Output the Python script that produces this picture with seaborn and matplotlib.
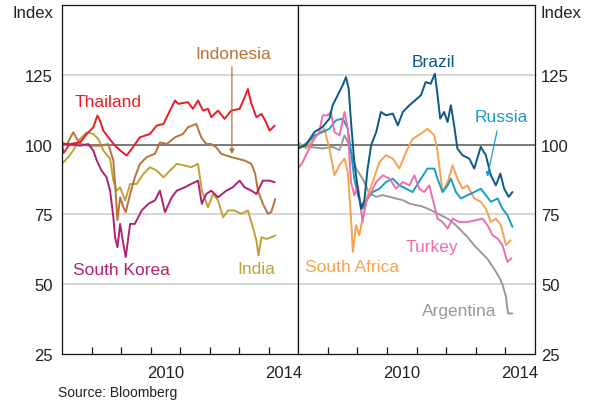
import seaborn as sns
import matplotlib.pyplot as plt
from matplotlib.ticker import FixedLocator, FixedFormatter, NullFormatter

# ---- Asia (panel izquierdo) ----
thailand_t = [2007.0, 2007.05, 2007.27, 2007.61, 2007.84, 2008.06, 2008.2, 2008.29, 2008.4, 2008.57,
              2008.8, 2008.97, 2009.19, 2009.36, 2009.64, 2009.98, 2010.21, 2010.44, 2010.66, 2010.83,
              2010.94, 2011.27, 2011.44, 2011.61, 2011.78, 2011.95, 2012.06, 2012.29, 2012.51, 2012.74,
              2013.02, 2013.19, 2013.3, 2013.42, 2013.59, 2013.76, 2013.89, 2014.04, 2014.21]
thailand = [100, 97, 100.2, 100.8, 103.8, 106.2, 110.4, 108.6, 105, 102.6,
            99.6, 97.9, 96.1, 98.4, 102.6, 103.8, 106.8, 107.4, 112.2, 115.8,
            114.6, 115.2, 112.8, 115.8, 112.2, 112.8, 109.8, 112.2, 109.2, 112.2,
            112.8, 116.9, 119.9, 114.6, 109.8, 111, 108.6, 105, 106.8]

indonesia_t = [2007.0, 2007.16, 2007.38, 2007.61, 2007.95, 2008.29, 2008.57, 2008.74, 2008.8, 2008.88,
               2008.97, 2009.08, 2009.16, 2009.31, 2009.47, 2009.64, 2009.87, 2010.15, 2010.32, 2010.55,
               2010.83, 2011.1, 2011.27, 2011.55, 2011.72, 2011.89, 2012.06, 2012.23, 2012.4, 2012.74,
               2013.19, 2013.42, 2013.55, 2013.64, 2013.81, 2013.98, 2014.09, 2014.23]
indonesia = [100.8, 100, 104.4, 100.2, 99.6, 99.6, 100.2, 94.3, 85.9, 73,
             81.1, 77.6, 75.8, 82.3, 88.3, 93.1, 95.5, 96.7, 100.8, 100.2,
             102.6, 103.8, 106.2, 107.4, 102.6, 100.2, 100.2, 99, 96.7, 95.5,
             94.3, 93.1, 89.5, 83.5, 78.8, 75.2, 75.8, 80.5]

south_korea_t = [2007.0, 2007.27, 2007.61, 2007.89, 2008.06, 2008.18, 2008.34, 2008.51, 2008.63, 2008.74,
                 2008.8, 2008.88, 2008.97, 2009.06, 2009.16, 2009.31, 2009.47, 2009.7, 2009.93, 2010.15,
                 2010.32, 2010.49, 2010.72, 2010.89, 2011.16, 2011.38, 2011.61, 2011.74, 2011.89, 2012.06,
                 2012.29, 2012.57, 2012.79, 2013.02, 2013.19, 2013.42, 2013.59, 2013.81, 2014.04, 2014.21]
south_korea = [100.2, 100.2, 99.6, 100.2, 97.9, 94.3, 90.7, 88.3, 83.5, 74,
               66.8, 63.2, 71.6, 65.6, 59.7, 71.6, 71.6, 76.4, 78.8, 80,
               83.5, 75.8, 81.1, 83.5, 84.7, 85.9, 87.1, 78.8, 82.3, 83.5,
               81.1, 83.5, 84.7, 87.1, 84.7, 83.5, 82.3, 87.1, 87.1, 86.5]

india_t = [2007.0, 2007.21, 2007.38, 2007.61, 2007.84, 2008.06, 2008.23, 2008.4, 2008.63, 2008.74,
           2008.85, 2008.97, 2009.14, 2009.31, 2009.53, 2009.76, 2009.98, 2010.21, 2010.44, 2010.66,
           2010.89, 2011.16, 2011.38, 2011.61, 2011.74, 2011.95, 2012.12, 2012.29, 2012.46, 2012.63,
           2012.85, 2013.08, 2013.3, 2013.47, 2013.59, 2013.66, 2013.76, 2013.93, 2014.09, 2014.23]
india = [93.1, 95.5, 97.9, 102, 104.4, 103.8, 102, 97.9, 94.9, 87.1,
         83.5, 84.7, 80, 85.9, 85.9, 89.5, 91.9, 90.7, 88.3, 90.7,
         93.1, 92.5, 91.9, 93.1, 83.5, 77.6, 82.3, 80, 74, 76.4,
         76.4, 75.2, 76.4, 70.4, 65.6, 60.3, 66.8, 66.2, 66.8, 67.4]

# ---- Otros emergentes (panel derecho) ----
brazil_t = [2007.0, 2007.27, 2007.55, 2007.83, 2008.06, 2008.17, 2008.34, 2008.51, 2008.62, 2008.71,
            2008.79, 2008.9, 2009.02, 2009.13, 2009.24, 2009.35, 2009.47, 2009.64, 2009.8, 2009.97,
            2010.2, 2010.37, 2010.54, 2010.76, 2010.96, 2011.15, 2011.31, 2011.48, 2011.62, 2011.71,
            2011.8, 2011.93, 2012.05, 2012.16, 2012.27, 2012.38, 2012.55, 2012.78, 2012.95, 2013.17,
            2013.34, 2013.51, 2013.68, 2013.83, 2013.96, 2014.11, 2014.24]
brazil = [98.6, 99.8, 104.5, 106.3, 109.3, 114.1, 117.7, 121.3, 124.2, 120.1,
          108.1, 93.8, 84, 77, 80, 91.4, 99.8, 104.5, 111.7, 110.5,
          111.1, 106.9, 111.7, 114.1, 115.9, 117.7, 122.4, 121.8, 125.4, 117.7,
          109.3, 111.7, 108.1, 114.1, 106.9, 98.6, 96.2, 95, 91.4, 99.2,
          96.2, 89, 85.4, 89.6, 84.2, 81.3, 83]

russia_t = [2007.0, 2007.27, 2007.55, 2007.83, 2008.06, 2008.28, 2008.51, 2008.68, 2008.79, 2008.9,
            2009.02, 2009.18, 2009.35, 2009.52, 2009.75, 2009.97, 2010.2, 2010.42, 2010.65, 2010.87,
            2011.15, 2011.37, 2011.6, 2011.71, 2011.88, 2012.05, 2012.16, 2012.33, 2012.5, 2012.72,
            2012.95, 2013.17, 2013.34, 2013.51, 2013.74, 2013.9, 2014.07, 2014.24]
russia = [98.6, 100.4, 103.3, 104.5, 105.7, 108.7, 109.3, 105.7, 97.4, 87.8,
          81.9, 77.1, 80.7, 83, 84.2, 86.6, 87.8, 85.4, 84.2, 83,
          87.8, 91.4, 91.4, 87.8, 83, 85.4, 87.8, 83, 80.7, 81.9,
          83, 84.2, 81.9, 79.5, 80.7, 77.1, 74.7, 70.5]

south_africa_t = [2007.0, 2007.27, 2007.5, 2007.72, 2007.89, 2008.06, 2008.23, 2008.4, 2008.57, 2008.68,
                  2008.79, 2008.85, 2008.96, 2009.07, 2009.18, 2009.35, 2009.52, 2009.75, 2009.97, 2010.2,
                  2010.42, 2010.65, 2010.87, 2011.15, 2011.37, 2011.6, 2011.71, 2011.88, 2012.05, 2012.22,
                  2012.38, 2012.55, 2012.72, 2012.95, 2013.17, 2013.34, 2013.51, 2013.68, 2013.85, 2014.02,
                  2014.18]
south_africa = [101, 98.6, 102.1, 103.9, 105.7, 98.6, 89, 92.6, 95, 90.2,
                73.5, 61.6, 71.1, 67.5, 73.5, 81.9, 86.6, 93.8, 96.2, 95,
                91.4, 97.4, 102.1, 103.9, 105.7, 103.3, 97.4, 83, 86.6, 92.6,
                87.8, 84.2, 85.4, 80.7, 79.5, 77.1, 72.3, 73.5, 71.1, 64,
                65.7]

turkey_t = [2007.0, 2007.16, 2007.38, 2007.55, 2007.72, 2007.83, 2008.0, 2008.11, 2008.23, 2008.4,
            2008.57, 2008.68, 2008.79, 2008.9, 2009.02, 2009.18, 2009.3, 2009.47, 2009.64, 2009.86,
            2010.09, 2010.31, 2010.54, 2010.76, 2010.93, 2011.09, 2011.26, 2011.43, 2011.6, 2011.71,
            2011.88, 2012.05, 2012.22, 2012.44, 2012.72, 2013.0, 2013.23, 2013.4, 2013.57, 2013.74,
            2013.9, 2014.07, 2014.2]
turkey = [91.4, 93.8, 98.6, 102.1, 104.5, 110.5, 110.5, 111.7, 104.5, 103.3,
          111.7, 105.7, 86.6, 81.9, 85.4, 72.3, 79.5, 83, 86.6, 89,
          87.8, 84.2, 86.6, 85.4, 89, 84.2, 83, 85.4, 78.3, 73.5,
          72.3, 69.9, 73.5, 72.3, 72.3, 72.9, 73.5, 71.1, 67.5, 66.3,
          64, 58, 59.2]

argentina_t = [2007.0, 2007.38, 2007.83, 2008.17, 2008.4, 2008.57, 2008.73, 2008.96, 2009.18, 2009.41,
               2009.64, 2009.86, 2010.09, 2010.31, 2010.54, 2010.76, 2010.99, 2011.15, 2011.37, 2011.6,
               2011.82, 2012.05, 2012.27, 2012.5, 2012.72, 2012.95, 2013.17, 2013.4, 2013.62, 2013.79,
               2013.9, 2014.02, 2014.07, 2014.1, 2014.24]
argentina = [99.8, 99.2, 98.6, 99.2, 98, 103.3, 99.8, 91.4, 87.8, 82.5,
             81.3, 81.9, 81.3, 80.7, 80.1, 78.9, 78.3, 78, 77.1, 75.9,
             74.7, 73.5, 71.7, 69.3, 66.9, 63.9, 61.5, 59, 55.5, 52.5,
             50, 45.5, 41, 39.5, 39.5]

COL = {
    "Thailand": "#EC1C24",
    "Indonesia": "#B8733A",
    "South Korea": "#B0226F",
    "India": "#BFA235",
    "Brazil": "#0B5A84",
    "Russia": "#1A9CC6",
    "South Africa": "#F7A24E",
    "Turkey": "#EE6EAD",
    "Argentina": "#999999",
}

sns.set_theme(style="white")
plt.rcParams['font.family'] = ['Liberation Sans', 'DejaVu Sans']
plt.rcParams['text.color'] = '#222222'

fig = plt.figure(figsize=(5.99, 4.02), dpi=100)
ax1 = fig.add_axes([62 / 599, 1 - 355 / 402, 236 / 599, 349 / 402])
ax2 = fig.add_axes([298 / 599, 1 - 355 / 402, 237 / 599, 349 / 402])

lw = 1.4
for t, v, name in [(india_t, india, "India"), (indonesia_t, indonesia, "Indonesia"),
                   (south_korea_t, south_korea, "South Korea"), (thailand_t, thailand, "Thailand")]:
    sns.lineplot(x=t, y=v, ax=ax1, color=COL[name], lw=lw, sort=False, estimator=None)

for t, v, name in [(argentina_t, argentina, "Argentina"), (south_africa_t, south_africa, "South Africa"),
                   (russia_t, russia, "Russia"), (turkey_t, turkey, "Turkey"), (brazil_t, brazil, "Brazil")]:
    sns.lineplot(x=t, y=v, ax=ax2, color=COL[name], lw=lw, sort=False, estimator=None)

for ax in (ax1, ax2):
    ax.set_xlim(2007, 2015)
    ax.set_ylim(25, 150)
    for lvl in (50, 75, 125):
        ax.axhline(lvl, color='#CCCCCC', lw=1.1, zorder=0)
    ax.axhline(100, color='#555555', lw=1.1, zorder=1)
    for s in ax.spines.values():
        s.set_visible(True)
        s.set_color('#111111')
        s.set_linewidth(0.9)
    ax.set_yticks([25, 50, 75, 100, 125])
    ax.set_yticklabels(["25", "50", "75", "100", "125"])
    ax.tick_params(axis='y', length=0, labelsize=12, colors='#222222')
    # year ticks (inside), labels centred in the year
    ax.xaxis.set_major_locator(FixedLocator(list(range(2008, 2015))))
    ax.xaxis.set_major_formatter(NullFormatter())
    ax.xaxis.set_minor_locator(FixedLocator([2010.5, 2014.5]))
    ax.xaxis.set_minor_formatter(FixedFormatter(["2010", "2014"]))
    ax.tick_params(axis='x', which='major', direction='in', length=5, width=0.9,
                   color='#111111', bottom=True, top=False)
    ax.tick_params(axis='x', which='minor', length=0, labelsize=12, pad=8,
                   colors='#222222', bottom=True)
    ax.set_xlabel("")
    ax.set_ylabel("")

ax1.tick_params(axis='y', pad=6.5)
ax2.yaxis.tick_right()
ax2.tick_params(axis='y', pad=4.5, length=0)

# series labels
fs = 12.5
ax1.text(2008.55, 115.4, "Thailand", color=COL["Thailand"], fontsize=fs, ha='center', va='center')
ax1.text(2012.8, 132.5, "Indonesia", color=COL["Indonesia"], fontsize=fs, ha='center', va='center')
ax1.text(2009.0, 55.4, "South Korea", color=COL["South Korea"], fontsize=fs, ha='center', va='center')
ax1.text(2013.6, 55.7, "India", color=COL["India"], fontsize=fs, ha='center', va='center')
ax2.text(2011.56, 129.6, "Brazil", color=COL["Brazil"], fontsize=fs, ha='center', va='center')
ax2.text(2013.86, 110, "Russia", color=COL["Russia"], fontsize=fs, ha='center', va='center')
ax2.text(2008.82, 56.4, "South Africa", color=COL["South Africa"], fontsize=fs, ha='center', va='center')
ax2.text(2011.53, 63.6, "Turkey", color=COL["Turkey"], fontsize=fs, ha='center', va='center')
ax2.text(2012.44, 40.7, "Argentina", color=COL["Argentina"], fontsize=fs, ha='center', va='center')

ax1.annotate("", xy=(2012.76, 96.6), xytext=(2012.76, 127.8),
             arrowprops=dict(arrowstyle='-|>', color=COL["Indonesia"], lw=0.9,
                             mutation_scale=7, shrinkA=0, shrinkB=0))
ax2.annotate("", xy=(2013.39, 88.4), xytext=(2013.72, 104.9),
             arrowprops=dict(arrowstyle='-|>', color=COL["Russia"], lw=0.9,
                             mutation_scale=7, shrinkA=0, shrinkB=0))

fig.text(53 / 599, 1 - 14 / 402, "Index", fontsize=12, ha='right', va='center', color='#222222')
fig.text(541 / 599, 1 - 14 / 402, "Index", fontsize=12, ha='left', va='center', color='#222222')
fig.text(58 / 599, 1 - 393 / 402, "Source: Bloomberg", fontsize=10, ha='left', va='center',
         color='#222222')

plt.savefig("out.png", dpi=100)
